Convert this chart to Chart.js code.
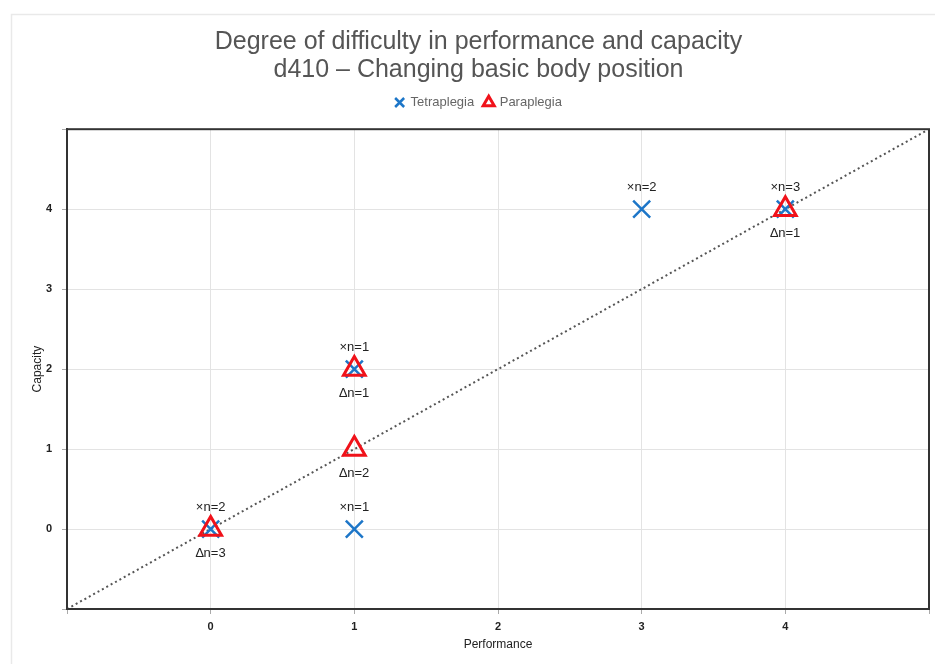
<!DOCTYPE html>
<html>
<head>
<meta charset="utf-8">
<script src="https://cdn.jsdelivr.net/npm/chart.js@4.4.0/dist/chart.umd.min.js"></script>
<style>
  html, body { margin: 0; padding: 0; background: #fff; }
  #wrap { width: 935px; height: 664px; }
</style>
</head>
<body>
<div id="wrap"><canvas id="myChart" width="935" height="664"></canvas></div>
<script>
// data
var tetraX = [0, 1, 1, 3, 4];
var tetraY = [0, 0, 2, 4, 4];
var tetraN = [2, 1, 1, 2, 3];

var paraX = [0, 1, 1, 4];
var paraY = [0, 1, 2, 4];
var paraN = [3, 2, 1, 1];

var diagX = [-1, 5];
var diagY = [-1, 5];

var tickLabels = ["0", "1", "2", "3", "4"];

function pts(xs, ys) {
  return xs.map(function (x, i) { return { x: x, y: ys[i] }; });
}

// frame around the page + dark box round the plot
var framePlugin = {
  id: "frame",
  afterLayout: function (chart) {
    // title and legend sit a bit right of the canvas centre in the original
    [chart.titleBlock, chart.legend].forEach(function (b) {
      if (b) { b.left += 14; b.right += 14; }
    });
  },
  beforeDraw: function (chart) {
    var c = chart.ctx;
    c.save();
    c.strokeStyle = "#e9e9e9";
    c.lineWidth = 1.5;
    c.beginPath();
    c.moveTo(11.5, 664);
    c.lineTo(11.5, 14.5);
    c.lineTo(935, 14.5);
    c.stroke();
    c.restore();
  },
  afterDatasetsDraw: function (chart) {
    var a = chart.chartArea, c = chart.ctx;
    c.save();
    c.strokeStyle = "#333";
    c.lineWidth = 2;
    c.strokeRect(a.left, a.top, a.right - a.left, a.bottom - a.top);
    c.restore();
  }
};

// "×n=2" above crosses, "∆n=3" below triangles
var countLabels = {
  id: "countLabels",
  afterDatasetsDraw: function (chart) {
    var c = chart.ctx, xs = chart.scales.x, ys = chart.scales.y;
    c.save();
    c.font = "13px 'Liberation Sans', Arial, sans-serif";
    c.fillStyle = "#222";
    c.textAlign = "center";
    c.textBaseline = "middle";
    tetraX.forEach(function (x, i) {
      c.fillText("\u00d7n=" + tetraN[i], xs.getPixelForValue(x), ys.getPixelForValue(tetraY[i]) - 22);
    });
    paraX.forEach(function (x, i) {
      c.fillText("\u2206n=" + paraN[i], xs.getPixelForValue(x), ys.getPixelForValue(paraY[i]) + 24);
    });
    c.restore();
  }
};

function gridCol(ctx) {
  var v = ctx.tick ? ctx.tick.value : 0;
  return (v < 0 || v > 4) ? "rgba(0,0,0,0)" : "#e3e3e3";
}

function tickCb(v) {
  return (v < 0 || v > 4) ? "" : tickLabels[v];
}

new Chart("myChart", {
  type: "scatter",
  data: {
    datasets: [{
      label: "Paraplegia",
      data: pts(paraX, paraY),
      pointStyle: "triangle",
      pointRadius: 12.5,
      pointHoverRadius: 12.5,
      borderColor: "#f0121a",
      backgroundColor: "rgba(255,255,255,0)",
      pointBorderWidth: 3
    }, {
      label: "Tetraplegia",
      data: pts(tetraX, tetraY),
      pointStyle: "crossRot",
      pointRadius: 12,
      pointHoverRadius: 12,
      borderColor: "#1d76c8",
      backgroundColor: "#1d76c8",
      pointBorderWidth: 2.5
    }, {
      type: "line",
      label: "diag",
      data: pts(diagX, diagY),
      borderColor: "#555",
      borderWidth: 2,
      borderDash: [2, 3],
      pointRadius: 0,
      fill: false
    }]
  },
  options: {
    responsive: false,
    animation: false,
    layout: { autoPadding: false, padding: { left: 0, right: 6, top: 0, bottom: 0 } },
    plugins: {
      title: {
        display: true,
        text: ["Degree of difficulty in performance and capacity", "d410 \u2013 Changing basic body position"],
        color: "#555",
        font: { family: "'Liberation Sans', Arial, sans-serif", size: 25, weight: "normal", lineHeight: 1.12 },
        padding: { top: 28, bottom: 2 }
      },
      subtitle: {
        display: true,
        text: " ",
        weight: 500,
        font: { size: 1 },
        padding: { top: 0, bottom: 9 }
      },
      legend: {
        reverse: true,
        labels: {
          usePointStyle: true,
          boxWidth: 9,
          boxHeight: 9,
          padding: 10,
          color: "#666",
          font: { family: "'Liberation Sans', Arial, sans-serif", size: 13 },
          filter: function (item) { return item.text !== "diag"; }
        }
      },
      tooltip: { enabled: false }
    },
    scales: {
      x: {
        type: "linear",
        min: -1,
        max: 5,
        ticks: { stepSize: 1, callback: tickCb, color: "#222", font: { size: 11, weight: "bold" }, padding: 6 },
        grid: { color: gridCol, tickColor: "#aaa", tickLength: 5 },
        border: { color: "#333", width: 2 },
        title: { display: true, text: "Performance", color: "#222", font: { size: 12 }, padding: { top: 4, bottom: 12 } },
        afterFit: function (s) { s.height = 55; }
      },
      y: {
        type: "linear",
        min: -1,
        max: 5,
        ticks: { stepSize: 1, callback: tickCb, color: "#222", font: { size: 11, weight: "bold" }, padding: 10 },
        grid: { color: gridCol, tickColor: "#aaa", tickLength: 5 },
        border: { color: "#333", width: 2 },
        title: { display: true, text: "Capacity", color: "#222", font: { size: 12 }, padding: { top: 30, bottom: 4 } },
        afterFit: function (s) { s.width = 67; }
      }
    }
  },
  plugins: [framePlugin, countLabels]
});
</script>
</body>
</html>
